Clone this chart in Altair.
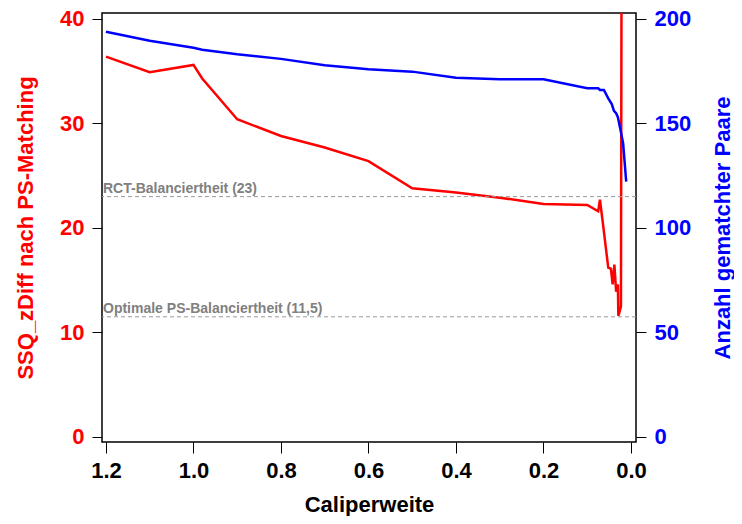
import altair as alt
import pandas as pd

# --- data ---
red_cal = [1.2, 1.1, 1.0, 0.98, 0.9, 0.8, 0.7, 0.6, 0.5, 0.4, 0.3, 0.2, 0.1,
           0.075, 0.071, 0.063, 0.052, 0.046, 0.042, 0.038, 0.034, 0.030,
           0.029, 0.026, 0.023, 0.021]
red_ssq = [36.4, 34.9, 35.6, 34.3, 30.4, 28.8, 27.7, 26.4, 23.8, 23.4, 22.9,
           22.3, 22.2, 21.6, 22.7, 20.0, 16.2, 16.1, 14.6, 16.5, 13.9, 14.6,
           11.6, 12.0, 12.5, 60.0]

blue_cal = [1.2, 1.1, 1.0, 0.98, 0.9, 0.8, 0.7, 0.6, 0.5, 0.4, 0.3, 0.2, 0.1,
            0.075, 0.071, 0.062, 0.052, 0.044, 0.039, 0.034, 0.030, 0.024,
            0.018, 0.011]
blue_n = [193.9, 189.6, 186.2, 185.3, 183.1, 180.9, 177.8, 175.9, 174.8,
          171.9, 171.1, 171.1, 166.8, 166.8, 166.0, 166.0, 162.0, 159.3,
          156.0, 154.9, 153.0, 146.9, 140.5, 122.2]

ref_values = [23.0, 11.5]
ref_labels = ["RCT-Balanciertheit (23)", "Optimale PS-Balanciertheit (11,5)"]

x_ticks = [1.2, 1.0, 0.8, 0.6, 0.4, 0.2, 0.0]
left_ticks = [0, 10, 20, 30, 40]
right_ticks = [0, 50, 100, 150, 200]

RED = "#FF0000"
BLUE = "#0000FF"
FONT = "Liberation Sans"

red_df = pd.DataFrame({"cal": red_cal, "ssq": red_ssq})
blue_df = pd.DataFrame({"cal": blue_cal, "n": blue_n})
ref_df = pd.DataFrame({"val": ref_values, "label": ref_labels})

x_scale = alt.Scale(domain=[-0.0114, 1.209], reverse=True, nice=False, zero=False)
left_scale = alt.Scale(domain=[-0.48, 40.57], nice=False, zero=False)
right_scale = alt.Scale(domain=[-2.4, 202.85], nice=False, zero=False)

x_axis = alt.Axis(
    values=x_ticks, format=".1f", title="Caliperweite", grid=False, domain=False,
    tickSize=11, tickColor="black", labelFontSize=22, labelFontWeight="bold",
    labelColor="black", labelFont=FONT, labelPadding=7, labelFlush=False,
    labelOverlap=False, titleFont=FONT, titleFontSize=22, titleFontWeight="bold",
    titleColor="black", titleBaseline="alphabetic", titleY=69,
)
left_axis = alt.Axis(
    values=left_ticks, format="d", title="SSQ_zDiff nach PS-Matching", orient="left",
    grid=False, domain=False, tickSize=10, tickColor="black", labelFontSize=22,
    labelFontWeight="bold", labelColor=RED, labelFont=FONT, labelPadding=8,
    labelOverlap=False, titleFont=FONT, titleFontSize=22, titleFontWeight="bold",
    titleColor=RED, titleAngle=270, titleBaseline="alphabetic", titleX=-70,
    titleY=214.5, titleAlign="center",
)
right_axis = alt.Axis(
    values=right_ticks, format="d", title="Anzahl gematchter Paare", orient="right",
    grid=False, domain=False, tickSize=10, tickColor="black", labelFontSize=22,
    labelFontWeight="bold", labelColor=BLUE, labelFont=FONT, labelPadding=8,
    labelOverlap=False, titleFont=FONT, titleFontSize=22, titleFontWeight="bold",
    titleColor=BLUE, titleAngle=270, titleBaseline="alphabetic", titleX=93,
    titleY=214.5, titleAlign="center",
)

red = alt.Chart(red_df).mark_line(color=RED, strokeWidth=2.5, clip=True).encode(
    x=alt.X("cal:Q", scale=x_scale, axis=x_axis),
    y=alt.Y("ssq:Q", scale=left_scale, axis=left_axis),
    order="idx:Q",
).transform_window(idx="row_number()")
rules = alt.Chart(ref_df).mark_rule(color="#9a9a9a", strokeDash=[4, 3], strokeWidth=1).encode(
    y=alt.Y("val:Q", scale=left_scale, axis=left_axis)
)
texts = alt.Chart(ref_df).mark_text(
    align="left", baseline="alphabetic", dy=-4, fontSize=14, fontWeight="bold",
    color="#808080", font=FONT,
).encode(
    x=alt.value(1),
    y=alt.Y("val:Q", scale=left_scale, axis=left_axis),
    text="label:N",
)
blue = alt.Chart(blue_df).mark_line(color=BLUE, strokeWidth=2.5, clip=True).encode(
    x=alt.X("cal:Q", scale=x_scale, axis=x_axis),
    y=alt.Y("n:Q", scale=right_scale, axis=right_axis),
    order="idx:Q",
).transform_window(idx="row_number()")

left_layer = alt.layer(red, rules, texts)
chart = alt.layer(left_layer, blue).resolve_scale(y="independent").properties(
    width=534, height=429,
    padding={"left": 94, "top": 5, "right": 98, "bottom": 74},
    autosize=alt.AutoSizeParams(type="none"),
    background="white",
).configure_view(stroke="#000000", strokeWidth=1.5, strokeOpacity=1)

chart.save("out.html", embed_options={"renderer": "svg", "actions": False})
